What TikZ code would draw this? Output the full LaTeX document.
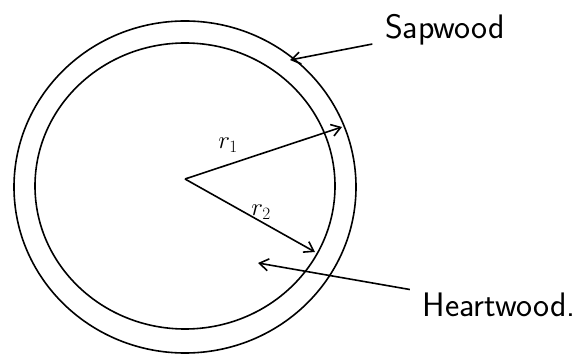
\documentclass[tikz,border=0pt]{standalone}
\usepackage{amsmath}
\usepackage{tikz}
\usetikzlibrary{arrows.meta}
\tikzset{lbl/.style={inner sep=12pt, font=\sffamily\fontsize{34}{40}\selectfont},
  rlbl/.style={inner sep=1pt, font=\fontsize{26}{30}\selectfont}}

\begin{document}
\begin{tikzpicture}[x=1pt, y=-1pt, >={Straight Barb[length=9pt,width=12pt]},
  line width=1.6pt]
  \useasboundingbox (0,0) rectangle (581,355);
  % log cross-section
  \draw (185,187) ellipse [x radius=171, y radius=166];
  \draw (185,186) ellipse [x radius=150, y radius=143];
  \coordinate (o) at (185,179);
  \coordinate (r1tip) at (342,127);
  \coordinate (r2tip) at (315,252);
  \coordinate (saptip) at (290,60);
  \coordinate (hearttip) at (258,263);
  \draw[->] (o) -- (r1tip);
  \draw[->] (o) -- (r2tip);
  \node[rlbl] (r1) at (228,145) {$r_1$};
  \node[rlbl] (r2) at (261,212) {$r_2$};
  % labels
  \node[lbl] (sap) at (445,30) {Sapwood};
  \node[lbl] (heart) at (499,305) {Heartwood.};
  \draw[->] (sap) -- (saptip);
  \draw[->] (heart) -- (hearttip);
\end{tikzpicture}
\end{document}
